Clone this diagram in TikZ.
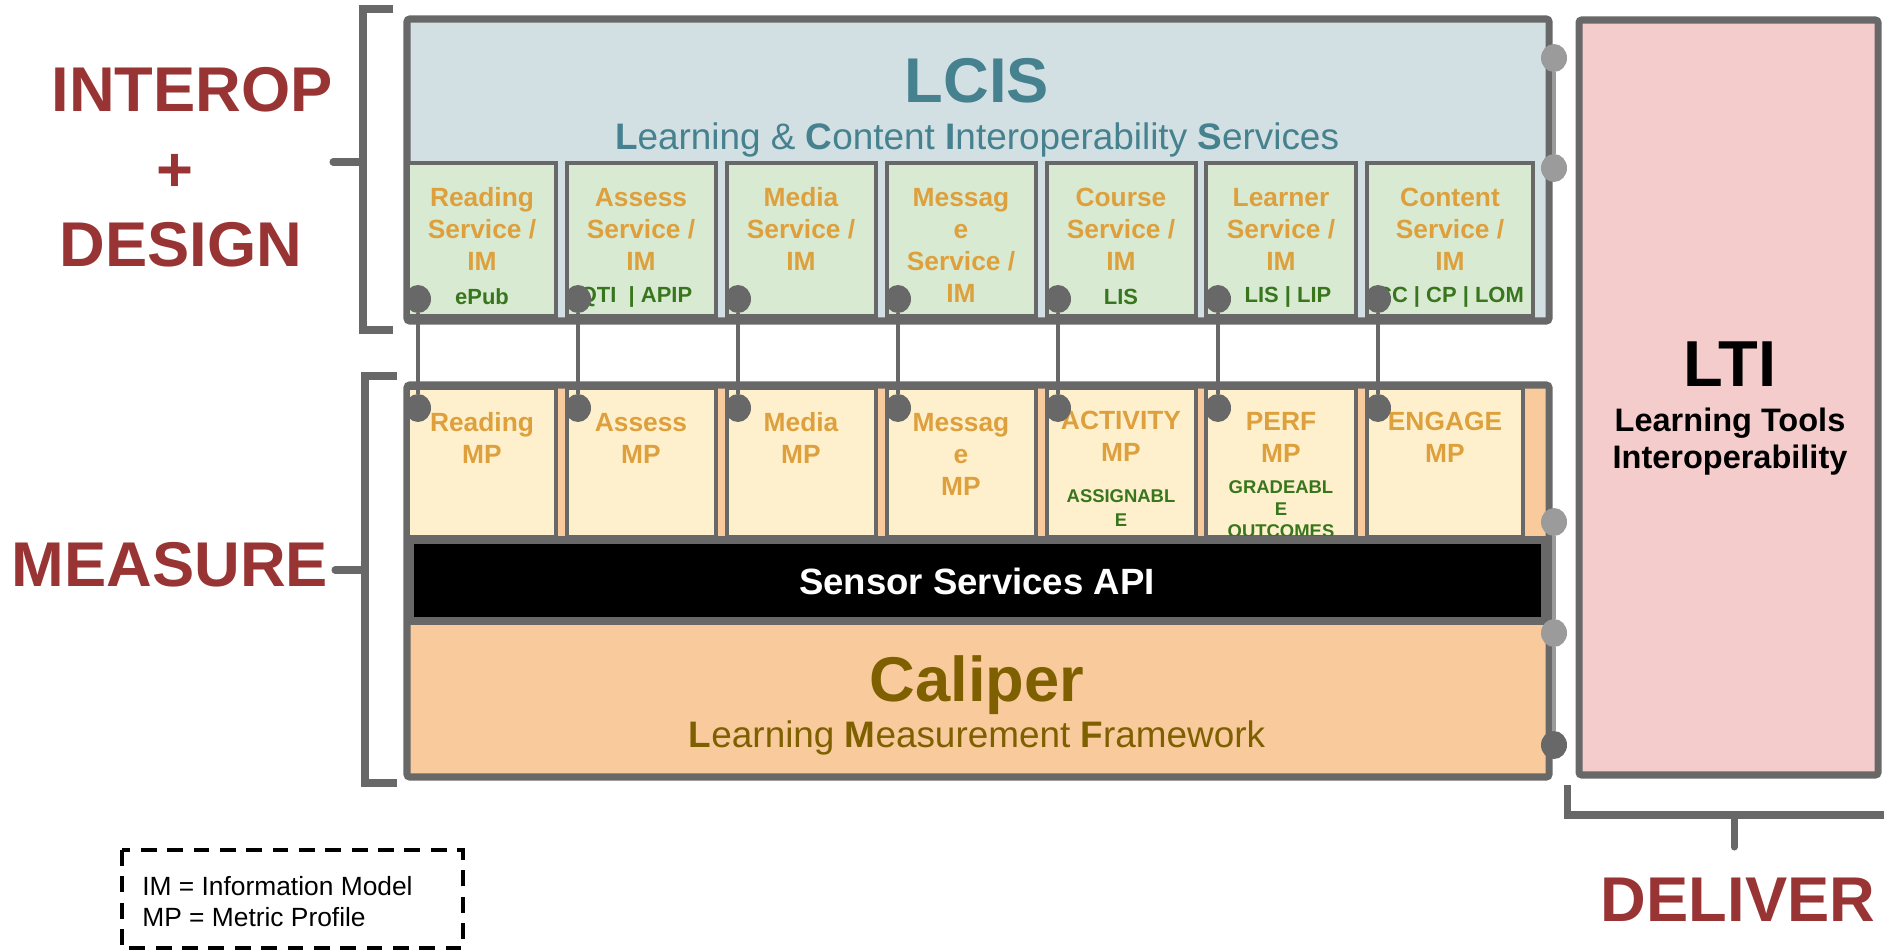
\documentclass[tikz,border=0pt]{standalone}
\usepackage{fontspec}
\setmainfont{Liberation Sans}
\usetikzlibrary{shapes.geometric}

\definecolor{framegray}{HTML}{686868}
\definecolor{plugdim}{HTML}{9B9B9B}
\definecolor{lcisblue}{HTML}{D2E0E3}
\definecolor{lcisteal}{HTML}{45818E}
\definecolor{svcgreen}{HTML}{D9EAD3}
\definecolor{svcorange}{HTML}{DDA03C}
\definecolor{taggreen}{HTML}{38761D}
\definecolor{mpyellow}{HTML}{FFF0CD}
\definecolor{calpeach}{HTML}{F8CA9C}
\definecolor{calbrown}{HTML}{7F6000}
\definecolor{ltipink}{HTML}{F4CCCC}
\definecolor{wordred}{HTML}{993434}

\begin{document}
\begin{tikzpicture}[x=0.02cm, y=-0.02cm,
  outerbox/.style={draw=framegray, line width=4pt, rounded corners=1.5pt},
  cellbox/.style={draw=framegray, line width=2.2pt},
  svctext/.style={text=svcorange, font=\fontsize{15}{18.2}\selectfont\bfseries, align=center},
  tagtext/.style={text=taggreen, font=\fontsize{12.5}{14}\selectfont\bfseries, align=center},
  smalltag/.style={text=taggreen, font=\fontsize{10.5}{12.4}\selectfont\bfseries, align=center},
  plug/.style={ellipse, fill=framegray, inner sep=0pt, minimum width=0.52cm, minimum height=0.56cm},
  sideplug/.style={plug, fill=plugdim},
  link/.style={draw=framegray, line width=1.8pt},
  sidelink/.style={draw=plugdim, line width=2.2pt},
  bracketline/.style={draw=framegray, line width=4pt},
  bigword/.style={text=wordred, font=\fontsize{36}{40}\selectfont\bfseries},
]
\useasboundingbox (0,0) rectangle (1884,951);

% LCIS block
\draw[outerbox, fill=lcisblue] (407,19) rectangle (1549,321);
\node[anchor=base, text=lcisteal, font=\fontsize{36}{40}\selectfont\bfseries] (lcis) at (977,102) {LCIS};
\node[anchor=base, text=lcisteal, font=\fontsize{21}{24}\selectfont] (lcissub) at (977,149)
  {{\bfseries L}earning \& {\bfseries C}ontent {\bfseries I}nteroperability {\bfseries S}ervices};

% service boxes
\draw[cellbox, fill=svcgreen] (408,163) rectangle (556,316);
\draw[cellbox, fill=svcgreen] (567,163) rectangle (716,316);
\draw[cellbox, fill=svcgreen] (727,163) rectangle (876,316);
\draw[cellbox, fill=svcgreen] (887,163) rectangle (1036,316);
\draw[cellbox, fill=svcgreen] (1047,163) rectangle (1196,316);
\draw[cellbox, fill=svcgreen] (1206,163) rectangle (1356,316);
\draw[cellbox, fill=svcgreen] (1367,163) rectangle (1533,316);

\node[svctext] (readsvc) at (482,229) {Reading\\Service /\\IM};
\node[svctext] (asssvc) at (641,229) {Assess\\Service /\\IM};
\node[svctext] (mediasvc) at (801,229) {Media\\Service /\\IM};
\node[svctext] (msgsvc) at (961,245) {Messag\\e\\Service /\\IM};
\node[svctext] (coursesvc) at (1121,229) {Course\\Service /\\IM};
\node[svctext] (learnsvc) at (1281,229) {Learner\\Service /\\IM};
\node[svctext] (contsvc) at (1450,229) {Content\\Service /\\IM};

\node[tagtext] (readtag) at (482,297) {ePub};
\node[tagtext] (asstag) at (636,297) {QTI \ | APIP};
\node[tagtext] (coursetag) at (1121,297) {LIS};
\node[tagtext] (learntag) at (1288,297) {LIS | LIP};
\node[tagtext] (conttag) at (1450,297) {CC | CP | LOM};

% Caliper block
\draw[outerbox, fill=calpeach] (407,385) rectangle (1549,777);
\draw[cellbox, fill=mpyellow] (408,388) rectangle (556,537);
\draw[cellbox, fill=mpyellow] (567,388) rectangle (716,537);
\draw[cellbox, fill=mpyellow] (727,388) rectangle (876,537);
\draw[cellbox, fill=mpyellow] (887,388) rectangle (1036,537);
\draw[cellbox, fill=mpyellow] (1047,388) rectangle (1196,537);
\draw[cellbox, fill=mpyellow] (1206,388) rectangle (1356,537);
\draw[cellbox, fill=mpyellow] (1367,388) rectangle (1523,537);

\node[svctext] (readmp) at (482,438) {Reading\\MP};
\node[svctext] (assmp) at (641,438) {Assess\\MP};
\node[svctext] (mediamp) at (801,438) {Media\\MP};
\node[svctext] (msgmp) at (961,454) {Messag\\e\\MP};
\node[svctext] (actmp) at (1121,436) {ACTIVITY\\MP};
\node[svctext] (perfmp) at (1281,437) {PERF\\MP};
\node[svctext] (engmp) at (1445,437) {ENGAGE\\MP};
\node[smalltag, font=\fontsize{10.5}{14}\selectfont\bfseries] (acttag) at (1121,508) {ASSIGNABL\\E};
\node[smalltag] (perftag) at (1281,509) {GRADEABL\\E\\OUTCOMES};

\draw[draw=framegray, line width=5pt, fill=black] (410,540) rectangle (1545,621);
\node[text=white, font=\fontsize{20.8}{24}\selectfont\bfseries] (sensor) at (977,581) {Sensor Services API};

\node[anchor=base, text=calbrown, font=\fontsize{36}{40}\selectfont\bfseries] (caliper) at (977,701) {Caliper};
\node[anchor=base, text=calbrown, font=\fontsize{21}{24}\selectfont] (calsub) at (977,747)
  {{\bfseries L}earning {\bfseries M}easurement {\bfseries F}ramework};

% service to profile links
\node[plug] (t1) at (418,299) {};
\node[plug] (t2) at (578,299) {};
\node[plug] (t3) at (738,299) {};
\node[plug] (t4) at (898,299) {};
\node[plug] (t5) at (1058,299) {};
\node[plug] (t6) at (1218,299) {};
\node[plug] (t7) at (1378,299) {};
\node[plug] (m1) at (418,408) {};
\node[plug] (m2) at (578,408) {};
\node[plug] (m3) at (738,408) {};
\node[plug] (m4) at (898,408) {};
\node[plug] (m5) at (1058,408) {};
\node[plug] (m6) at (1218,408) {};
\node[plug] (m7) at (1378,408) {};
\draw[link] (t1) -- (m1);
\draw[link] (t2) -- (m2);
\draw[link] (t3) -- (m3);
\draw[link] (t4) -- (m4);
\draw[link] (t5) -- (m5);
\draw[link] (t6) -- (m6);
\draw[link] (t7) -- (m7);

% side plugs
\node[sideplug] (r1) at (1554,58) {};
\node[sideplug] (r2) at (1554,168) {};
\node[sideplug] (r3) at (1554,522) {};
\node[sideplug] (r4) at (1554,633) {};
\node[plug] (r5) at (1554,745) {};
\draw[sidelink] (r1) -- (r2);
\draw[sidelink] (r3) -- (r4);
\draw[sidelink] (r4) -- (r5);

% LTI block
\draw[outerbox, fill=ltipink] (1579,20) rectangle (1878,775);
\node[anchor=base, font=\fontsize{37}{40}\selectfont\bfseries] (lti) at (1730,386) {LTI};
\node[align=center, font=\fontsize{18.5}{21}\selectfont\bfseries] (ltisub) at (1730,442) {Learning Tools\\Interoperability};

% brackets
\draw[bracketline] (393,9) -- (363,9) -- (363,330) -- (393,330);
\draw[bracketline, line cap=round] (363,162) -- (333,162);
\draw[bracketline] (397,376) -- (365,376) -- (365,783) -- (397,783);
\draw[bracketline, line cap=round] (365,570) -- (335,570);
\draw[bracketline] (1567,785) -- (1567,815) -- (1884,815);
\draw[bracketline, line cap=round] (1734,815) -- (1734,847);

\node[bigword] (interop) at (192,90) {INTEROP};
\node[bigword] (plus) at (175,173) {+};
\node[bigword] (design) at (181,245) {DESIGN};
\node[bigword] (measure) at (170,565) {MEASURE};
\node[bigword] (deliver) at (1738,900) {DELIVER};

% legend
\draw[line width=2.3pt, dash pattern=on 9pt off 6pt] (122,850) rectangle (463,948);
\node[anchor=west, align=left, inner sep=0pt, font=\fontsize{15}{17.6}\selectfont] (legend) at (142,902)
  {IM = Information Model\\MP = Metric Profile};
\end{tikzpicture}
\end{document}
